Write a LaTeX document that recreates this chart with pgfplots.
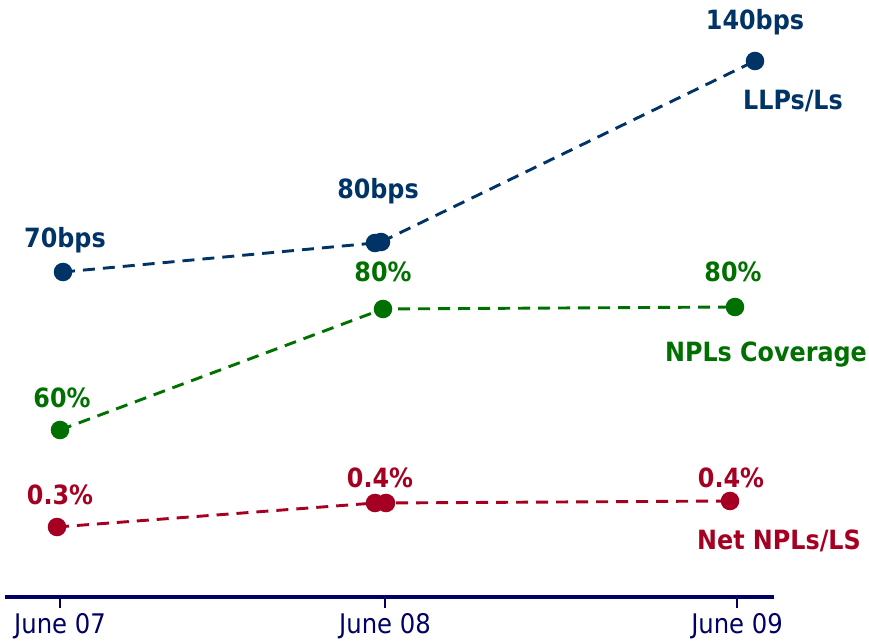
\documentclass[border=0pt]{standalone}
\usepackage{pgfplots}
\pgfplotsset{compat=1.18}
\usepackage{fontspec}
\setmainfont{DejaVu Sans Condensed}
\definecolor{llpblue}{RGB}{0,51,102}
\definecolor{covgreen}{RGB}{0,112,0}
\definecolor{nplred}{RGB}{165,0,33}
\definecolor{axisnavy}{RGB}{0,0,102}
\begin{document}
\begin{tikzpicture}[x=1pt,y=1pt]
\path[use as bounding box] (0,0) rectangle (869,644);
\begin{axis}[
  at={(5pt,47pt)}, anchor=origin,
  scale only axis, width=769pt, height=597pt,
  xmin=5, xmax=774, ymin=47, ymax=644,
  axis x line=bottom, hide y axis,
  x axis line style={axisnavy, line width=3.2pt, -},
  xtick={60,385,737},
  xticklabels={June 07,June 08,June 09},
  tick align=outside, major tick length=11pt,
  tick style={axisnavy, line width=1.5pt},
  xticklabel style={font=\fontsize{27}{27}\selectfont, color=axisnavy, inner sep=1pt, yshift=-4pt},
  clip=false,
  every axis plot/.append style={dash pattern=on 12pt off 8pt, line width=2.9pt, mark=*, mark size=7.8pt, mark options={solid}},
]
% LLPs/Ls (image rows converted as y = 644 - row)
\addplot[llpblue] coordinates {(63,372) (375,401) (381,402) (755,583)};
% NPLs coverage
\addplot[covgreen] coordinates {(60,214) (383,335) (735,337)};
% Net NPLs/LS
\addplot[nplred] coordinates {(57,117) (375,141) (386,141) (730,143)};

\begin{scope}[every node/.style={font=\bfseries\fontsize{26.5}{26.5}\selectfont}]
\node[llpblue] at (axis cs:65,404) {70bps};
\node[llpblue] at (axis cs:378,453) {80bps};
\node[llpblue] at (axis cs:755,622) {140bps};
\node[llpblue] at (axis cs:793,543) {LLPs/Ls};
\node[covgreen] at (axis cs:62,246) {60\%};
\node[covgreen] at (axis cs:383,372) {80\%};
\node[covgreen] at (axis cs:733,372) {80\%};
\node[covgreen] at (axis cs:766,289) {NPLs Coverage};
\node[nplred] at (axis cs:60,149) {0.3\%};
\node[nplred] at (axis cs:380,166) {0.4\%};
\node[nplred] at (axis cs:731,166) {0.4\%};
\node[nplred] at (axis cs:779,103) {Net NPLs/LS};
\end{scope}
\end{axis}
\end{tikzpicture}
\end{document}
